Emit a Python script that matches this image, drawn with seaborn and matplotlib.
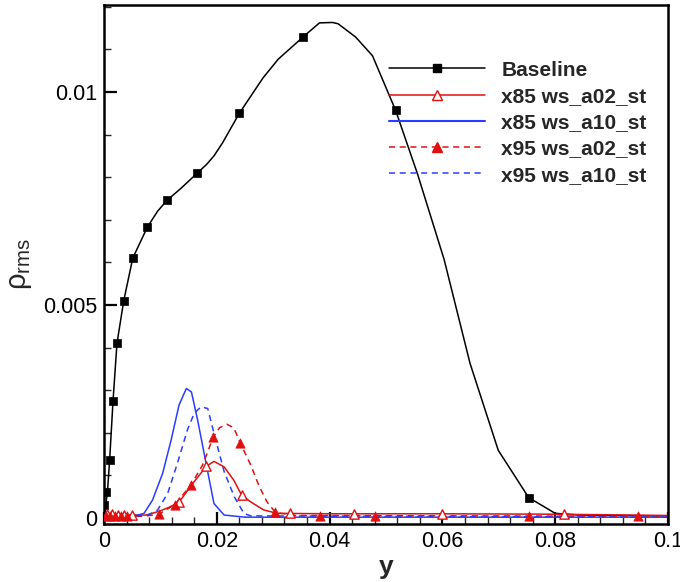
import numpy as np
import pandas as pd
import seaborn as sns
import matplotlib.pyplot as plt
from matplotlib.lines import Line2D
from matplotlib.ticker import MultipleLocator

# baseline curve and its symbols
base_x = [0.0, 0.0003, 0.0006, 0.001, 0.0016, 0.0023, 0.0035, 0.0051, 0.0077, 0.0095, 0.0112, 0.0135,
          0.0165, 0.0182, 0.0195, 0.021, 0.024, 0.0282, 0.0309, 0.0353, 0.0382, 0.0405, 0.0415, 0.0446,
          0.0476, 0.0517, 0.0556, 0.0603, 0.0649, 0.0699, 0.0753, 0.080, 0.0843, 0.1]
base_y = [0.0, 0.0003, 0.0006, 0.00136, 0.00275, 0.0041, 0.0051, 0.0061, 0.00683, 0.0072, 0.00746, 0.00772,
          0.00809, 0.0083, 0.0085, 0.0088, 0.0095, 0.01033, 0.01077, 0.01129, 0.01162, 0.01163, 0.0116, 0.01129,
          0.01085, 0.00957, 0.00807, 0.00607, 0.00363, 0.00159, 0.00048, 0.00011, 0.00007, 0.00005]
base_mx = [0.0, 0.0004, 0.001, 0.0016, 0.0023, 0.0035, 0.0051, 0.0077, 0.0112, 0.0165, 0.024, 0.0353, 0.0517, 0.0753]
base_my = [0.0003, 0.0006, 0.00136, 0.00275, 0.0041, 0.0051, 0.0061, 0.00683, 0.00746, 0.00809, 0.0095, 0.01129,
           0.00957, 0.00048]

# x85 ws_a02_st
r85_x = [0.0, 0.005, 0.0075, 0.0098, 0.0115, 0.0133, 0.0155, 0.0181, 0.0195, 0.0213, 0.023, 0.0244, 0.026,
         0.0283, 0.0307, 0.04, 0.06, 0.08, 0.1]
r85_y = [0.00009, 0.00007, 0.00007, 0.00016, 0.00025, 0.00037, 0.00077, 0.00121, 0.00133, 0.0012, 0.00089,
         0.00054, 0.00038, 0.00019, 0.00011, 0.0001, 0.0001, 0.00009, 0.00006]
r85_mx = [0.0005, 0.0015, 0.0025, 0.0035, 0.005, 0.0133, 0.0181, 0.0244, 0.0329, 0.0444, 0.06, 0.0815]
r85_my = [0.0001, 0.0001, 0.00008, 0.00008, 0.00007, 0.00037, 0.00121, 0.00054, 0.00011, 0.0001, 0.0001, 0.00009]

# x85 ws_a10_st
b85_x = [0.0, 0.0055, 0.0071, 0.0086, 0.0104, 0.0119, 0.0133, 0.0146, 0.0155, 0.0166, 0.0181, 0.0195,
         0.0213, 0.025, 0.1]
b85_y = [0.00002, 0.00005, 0.00011, 0.00042, 0.00105, 0.00183, 0.00265, 0.00304, 0.00296, 0.0023, 0.00128,
         0.00034, 0.00007, 0.00002, 0.00002]

# x95 ws_a02_st
r95_x = [0.0, 0.007, 0.0097, 0.0125, 0.0154, 0.0175, 0.0194, 0.0205, 0.0218, 0.023, 0.0242, 0.026, 0.0275,
         0.0289, 0.0304, 0.034, 0.1]
r95_y = [0.00005, 0.00004, 0.00009, 0.00031, 0.00077, 0.00125, 0.00191, 0.00212, 0.0022, 0.00212, 0.00175,
         0.00125, 0.00075, 0.00038, 0.00013, 0.00006, 0.00004]
r95_mx = [0.0003, 0.001, 0.002, 0.003, 0.004, 0.0097, 0.0125, 0.0154, 0.0194, 0.0242, 0.0304, 0.0383, 0.048,
          0.0753, 0.0947]
r95_my = [0.00005, 0.00005, 0.00004, 0.00004, 0.00004, 0.00009, 0.00031, 0.00077, 0.00191, 0.00175, 0.00013,
          0.00005, 0.00004, 0.00004, 0.00004]

# x95 ws_a10_st
b95_x = [0.0, 0.0078, 0.0095, 0.0113, 0.013, 0.0148, 0.016, 0.0172, 0.0184, 0.0195, 0.0213, 0.0231, 0.0248,
         0.026, 0.1]
b95_y = [0.00002, 0.00007, 0.00019, 0.00058, 0.00128, 0.00207, 0.00246, 0.00261, 0.00257, 0.00199, 0.00109,
         0.0005, 0.00011, 0.00005, 0.00002]

labels = ['Baseline', 'x85 ws_a02_st', 'x85 ws_a10_st', 'x95 ws_a02_st', 'x95 ws_a10_st']

RED = '#e01010'
BLUE = '#2a3cff'

sns.set_style('ticks')
plt.rcParams['font.family'] = ['Liberation Sans', 'DejaVu Sans']
plt.rcParams['mathtext.fontset'] = 'custom'
plt.rcParams['mathtext.rm'] = 'Liberation Sans'
plt.rcParams['mathtext.it'] = 'Liberation Sans'

fig = plt.figure(figsize=(6.8, 5.82), dpi=100)
ax = fig.add_axes([104 / 680, 1 - 524 / 582, (668 - 104) / 680, (524 - 5) / 582])

lw = 1.1
sns.lineplot(x=base_x, y=base_y, color='black', lw=lw, sort=False, ax=ax)
sns.lineplot(x=r85_x, y=r85_y, color=RED, lw=lw, sort=False, ax=ax)
sns.lineplot(x=b85_x, y=b85_y, color=BLUE, lw=lw, sort=False, ax=ax)
sns.lineplot(x=r95_x, y=r95_y, color=RED, lw=lw, ls=(0, (4, 3)), sort=False, ax=ax)
sns.lineplot(x=b95_x, y=b95_y, color=BLUE, lw=lw, ls=(0, (4, 3)), sort=False, ax=ax)

sns.scatterplot(x=base_mx, y=base_my, marker='s', s=36, color='black', edgecolor='black', linewidth=0.5, ax=ax, zorder=5)
sns.scatterplot(x=r85_mx, y=r85_my, marker='^', s=45, facecolor='white', edgecolor=RED, linewidth=1.0, ax=ax, zorder=5)
sns.scatterplot(x=r95_mx, y=r95_my, marker='^', s=45, color=RED, edgecolor=RED, linewidth=0.5, ax=ax, zorder=5)

ax.set_xlim(0, 0.1)
ax.set_ylim(-0.00014, 0.01204)
ax.set_xticks([0, 0.02, 0.04, 0.06, 0.08, 0.1])
ax.set_xticklabels(['0', '0.02', '0.04', '0.06', '0.08', '0.1'])
ax.set_yticks([0, 0.005, 0.01])
ax.set_yticklabels(['0', '0.005', '0.01'])
ax.xaxis.set_minor_locator(MultipleLocator(0.004))
ax.yaxis.set_minor_locator(MultipleLocator(0.001))
ax.tick_params(which='major', direction='in', length=9, width=1.6, labelsize=15.5, pad=5, colors='black')
ax.tick_params(which='minor', direction='in', length=5, width=1.0)
ax.tick_params(top=False, right=False, which='both')
for sp in ax.spines.values():
    sp.set_linewidth(1.8)
    sp.set_color('black')
    sp.set_visible(True)

ax.set_xlabel('y', fontsize=19, fontweight='bold', labelpad=2)
ax.set_ylabel(r'$\rho_{\mathrm{rms}}$', fontsize=21, labelpad=6)

handles = [
    Line2D([], [], color='black', lw=lw, marker='s', markersize=6),
    Line2D([], [], color=RED, lw=lw, marker='^', markersize=7, markerfacecolor='white', markeredgecolor=RED),
    Line2D([], [], color=BLUE, lw=lw + 0.4),
    Line2D([], [], color=RED, lw=lw, ls=(0, (4, 3)), marker='^', markersize=7),
    Line2D([], [], color=BLUE, lw=lw, ls=(0, (4, 3))),
]
ax.legend(handles, labels, loc='upper left', bbox_to_anchor=(0.505, 0.893), frameon=False,
          handlelength=4.6, handletextpad=0.8, labelspacing=0.35, borderaxespad=0, borderpad=0,
          prop={'weight': 'bold', 'size': 15})

fig.savefig('out.png', dpi=100)
